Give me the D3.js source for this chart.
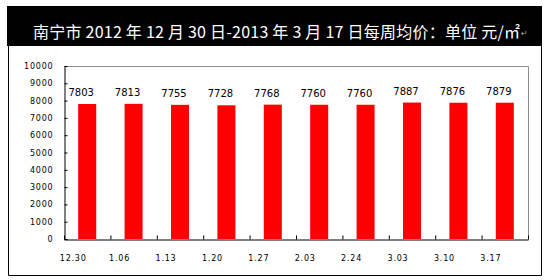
<!DOCTYPE html>
<html>
<head>
<meta charset="utf-8">
<script src="https://cdn.jsdelivr.net/npm/d3@7"></script>
<style>
  body { margin: 0; background: #fff; }
  svg { display: block; }
</style>
</head>
<body>
<div id="chart"></div>
<script>
// 每周均价数据
const categories = ["12.30", "1.06", "1.13", "1.20", "1.27", "2.03", "2.24", "3.03", "3.10", "3.17"];
const prices = [7803, 7813, 7755, 7728, 7768, 7760, 7760, 7887, 7876, 7879];
const yTicks = [0, 1000, 2000, 3000, 4000, 5000, 6000, 7000, 8000, 9000, 10000];
const title = "南宁市 2012 年 12 月 30 日-2013 年 3 月 17 日每周均价：单位 元/㎡";

const width = 545, height = 280;
const plot = { left: 64, right: 528, top: 66, bottom: 239 };

const svg = d3.select("#chart").append("svg")
  .attr("width", width)
  .attr("height", height);

// 外框
svg.append("path")
  .attr("d", "M8.5,46V275.5H541.5V46")
  .attr("fill", "none")
  .attr("stroke", "#000");

// 标题栏
svg.append("rect")
  .attr("x", 7).attr("y", 6)
  .attr("width", 535).attr("height", 40)
  .attr("fill", "#000");

svg.append("text")
  .attr("x", 33).attr("y", 38)
  .attr("fill", "#fff")
  .style("font-family", "'Noto Sans CJK SC', sans-serif")
  .style("font-size", "16px")
  .attr("textLength", 487)
  .attr("lengthAdjust", "spacing")
  .text(title);

svg.append("text")
  .attr("x", 521).attr("y", 36)
  .attr("fill", "#aaa")
  .style("font-family", "'DejaVu Sans', sans-serif")
  .style("font-size", "8px")
  .text("↵");

// 比例尺
const x = d3.scaleBand()
  .domain(categories)
  .range([plot.left, plot.right])
  .paddingInner(0.612)
  .paddingOuter(0.306);

const y = d3.scaleLinear()
  .domain([0, 10000])
  .range([plot.bottom, plot.top]);

// 灰色边框 (上、右)
svg.append("path")
  .attr("d", `M${plot.left},${plot.top + 0.5}H${plot.right + 0.5}V${plot.bottom}`)
  .attr("fill", "none")
  .attr("stroke", "#8c8c8c");

// 柱子
svg.append("g")
  .selectAll("rect")
  .data(prices)
  .join("rect")
  .attr("x", (d, i) => x(categories[i]))
  .attr("y", d => y(d))
  .attr("width", x.bandwidth())
  .attr("height", d => y(0) - y(d))
  .attr("fill", "#ff0000");

// 数值标签
svg.append("g")
  .selectAll("text")
  .data(prices)
  .join("text")
  .attr("x", (d, i) => x(categories[i]) + x.bandwidth() / 2 - 6)
  .attr("y", d => y(d) - 8)
  .attr("text-anchor", "middle")
  .style("font-family", "'DejaVu Sans', sans-serif")
  .style("font-size", "10px")
  .attr("fill", "#000")
  .text(d => d);

// Y 轴
const yAxis = svg.append("g")
  .attr("transform", `translate(${plot.left + 0.5},0)`)
  .call(d3.axisLeft(y).tickValues(yTicks).tickFormat(d3.format("d"))
    .tickSizeInner(-3).tickSizeOuter(0).tickPadding(11));

yAxis.selectAll("text")
  .style("font-family", "'DejaVu Sans', sans-serif")
  .style("font-size", "8px")
  .style("letter-spacing", "0.8px")
  .attr("fill", "#000");

// X 轴刻度 (在类别边界)
const xb = d3.scaleLinear().domain([0, categories.length]).range([plot.left, plot.right]);
svg.append("g")
  .attr("transform", `translate(0,${plot.bottom + 0.5})`)
  .call(d3.axisBottom(xb).tickValues(d3.range(categories.length + 1)).tickSizeInner(-4).tickSizeOuter(0).tickFormat(""));

// X 轴标签
const xAxis = svg.append("g")
  .attr("transform", `translate(0,${plot.bottom + 0.5})`)
  .call(d3.axisBottom(x).tickSize(0).tickPadding(16));
xAxis.select(".domain").remove();
xAxis.selectAll("text")
  .attr("transform", "translate(-14,0)")
  .style("font-family", "'DejaVu Sans', sans-serif")
  .style("font-size", "8px")
  .style("letter-spacing", "0.8px")
  .attr("fill", "#000");

svg.selectAll(".domain").attr("stroke", "#000");
svg.selectAll(".tick line").attr("stroke", "#000");
</script>
</body>
</html>
